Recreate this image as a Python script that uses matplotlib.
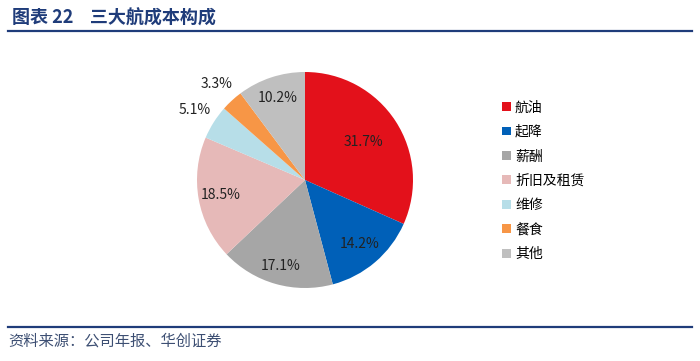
import matplotlib.pyplot as plt
import numpy as np

plt.rcParams['font.family'] = ['Noto Sans CJK SC', 'DejaVu Sans']

# 数据
categories = ['航油', '起降', '薪酬', '折旧及租赁', '维修', '餐食', '其他']
values = [31.7, 14.2, 17.1, 18.5, 5.1, 3.3, 10.2]
colors = ['#E3111B', '#0060B8', '#A6A6A6', '#E6B9B8', '#B7DEE8', '#F79646', '#BFBFBF']
# distance relative du label au centre
label_dist = [0.64, 0.78, 0.83, 0.79, 1.21, 1.21, 0.8]

fig = plt.figure(figsize=(7, 3.61), dpi=100)

# titre
fig.text(12 / 700, 1 - 18 / 361, '图表 22    三大航成本构成', fontsize=13, fontweight='bold',
         color='#1F3C7A', va='center', ha='left')
fig.add_artist(plt.Line2D([8 / 700, 692 / 700], [1 - 31 / 361] * 2, color='#1F3C7A', lw=1.6))
fig.add_artist(plt.Line2D([8 / 700, 692 / 700], [1 - 327 / 361] * 2, color='#1F3C7A', lw=1.6))
fig.text(8 / 700, 1 - 341 / 361, '资料来源：公司年报、华创证券', fontsize=11, color='#3D4F73',
         va='center', ha='left', style='italic')

ax = fig.add_axes([(305 - 108) / 700, (361 - 288) / 361, 216 / 700, 216 / 361])
wedges, _ = ax.pie(values, colors=colors, startangle=90, counterclock=False,
                   wedgeprops=dict(linewidth=0))
ax.set_aspect('equal')
ax.set_xlim(-1, 1)
ax.set_ylim(-1, 1)

for w, v, d in zip(wedges, values, label_dist):
    ang = np.deg2rad((w.theta1 + w.theta2) / 2)
    ax.text(d * np.cos(ang), d * np.sin(ang), f'{v:.1f}%', ha='center', va='center',
            fontsize=10, color='#222222')

# légende
leg = fig.legend(wedges, categories, loc='upper left', bbox_to_anchor=(490 / 700, 1 - 88 / 361),
                 frameon=False, fontsize=10, handlelength=0.6, handleheight=0.6,
                 handletextpad=0.3, labelspacing=0.75)

fig.savefig('out.png', dpi=100)
